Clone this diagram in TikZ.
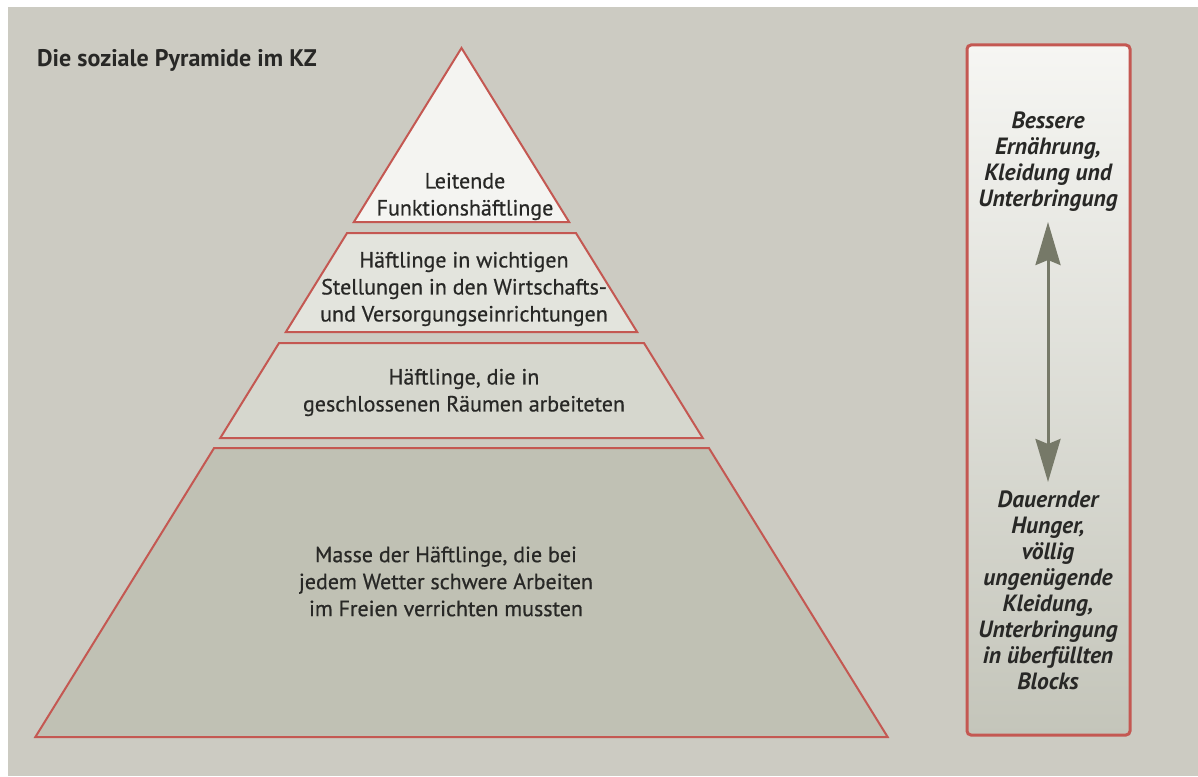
\documentclass[tikz,border=0pt]{standalone}
\usepackage{fontspec}
\setmainfont{PT Sans}
\newfontfamily\medfont[FakeBold=0.6]{PT Sans}
\usetikzlibrary{arrows.meta}
\definecolor{bgc}{RGB}{204,203,194}
\definecolor{redline}{RGB}{196,88,82}
\definecolor{fillA}{RGB}{244,244,241}
\definecolor{fillB}{RGB}{227,228,221}
\definecolor{fillC}{RGB}{214,215,206}
\definecolor{fillD}{RGB}{192,193,180}
\definecolor{txt}{RGB}{40,40,38}
\definecolor{arrowc}{RGB}{118,121,104}
\definecolor{boxtop}{RGB}{246,246,243}
\definecolor{boxbot}{RGB}{196,197,186}
\tikzset{
  layer/.style={draw=redline, line width=2pt, line join=miter},
  ptext/.style={text=txt, align=center, inner sep=0pt, font=\medfont\fontsize{22}{27}\selectfont},
  btext/.style={text=txt, align=center, inner sep=0pt, font=\fontsize{23.5}{26}\selectfont\bfseries\itshape},
}
\newcommand{\lx}[1]{461.5-0.6185*(#1-48)}
\newcommand{\rx}[1]{461.5+0.6185*(#1-48)}
\begin{document}
\begin{tikzpicture}[x=1pt,y=-1pt]
\useasboundingbox (0,0) rectangle (1198,776);
\fill[white] (0,0) rectangle (1198,776);
\fill[bgc] (8,7) rectangle (1198,776);
% title
\node[anchor=west, text=txt, inner sep=0pt, font=\fontsize{24}{28}\selectfont\bfseries] (title) at (37,60) {Die soziale Pyramide im KZ};
% pyramid layers
\path[layer, fill=fillA] (461.5,48) -- ({\rx{222}},222) -- ({\lx{222}},222) -- cycle;
\path[layer, fill=fillB] ({\lx{233}},233) -- ({\rx{233}},233) -- ({\rx{332}},332) -- ({\lx{332}},332) -- cycle;
\path[layer, fill=fillC] ({\lx{343}},343) -- ({\rx{343}},343) -- ({\rx{438}},438) -- ({\lx{438}},438) -- cycle;
\path[layer, fill=fillD] ({\lx{448}},448) -- ({\rx{448}},448) -- ({\rx{737}},737) -- ({\lx{737}},737) -- cycle;
\node[ptext] (t1) at (465,196.5) {Leitende\\Funktionshäftlinge};
\node[ptext] (t2) at (464,289) {Häftlinge in wichtigen\\Stellungen in den Wirtschafts-\\und Versorgungseinrichtungen};
\node[ptext] (t3) at (464,392.5) {Häftlinge, die in\\geschlossenen Räumen arbeiteten};
\node[ptext] (t4) at (446,581.5) {Masse der Häftlinge, die bei\\jedem Wetter schwere Arbeiten\\im Freien verrichten mussten};
% right box
\shade[top color=boxtop, bottom color=boxbot, rounded corners=4pt] (967,45) rectangle (1130,735);
\draw[redline, line width=3pt, rounded corners=4pt] (967,45) rectangle (1130,735);
\node[btext] (better) at (1048,162) {Bessere\\Ernährung,\\Kleidung und\\Unterbringung};
\node[btext] (worse) at (1048,590) {Dauernder\\Hunger,\\völlig\\ungenügende\\Kleidung,\\Unterbringung\\in überfüllten\\Blocks};
\coordinate (atop) at (1048,222);
\coordinate (abot) at (1048,482);
\draw[arrowc, line width=3pt, {Stealth[length=43pt,width=25pt,inset=5pt]}-{Stealth[length=43pt,width=25pt,inset=5pt]}] (atop) -- (abot);
\end{tikzpicture}
\end{document}
